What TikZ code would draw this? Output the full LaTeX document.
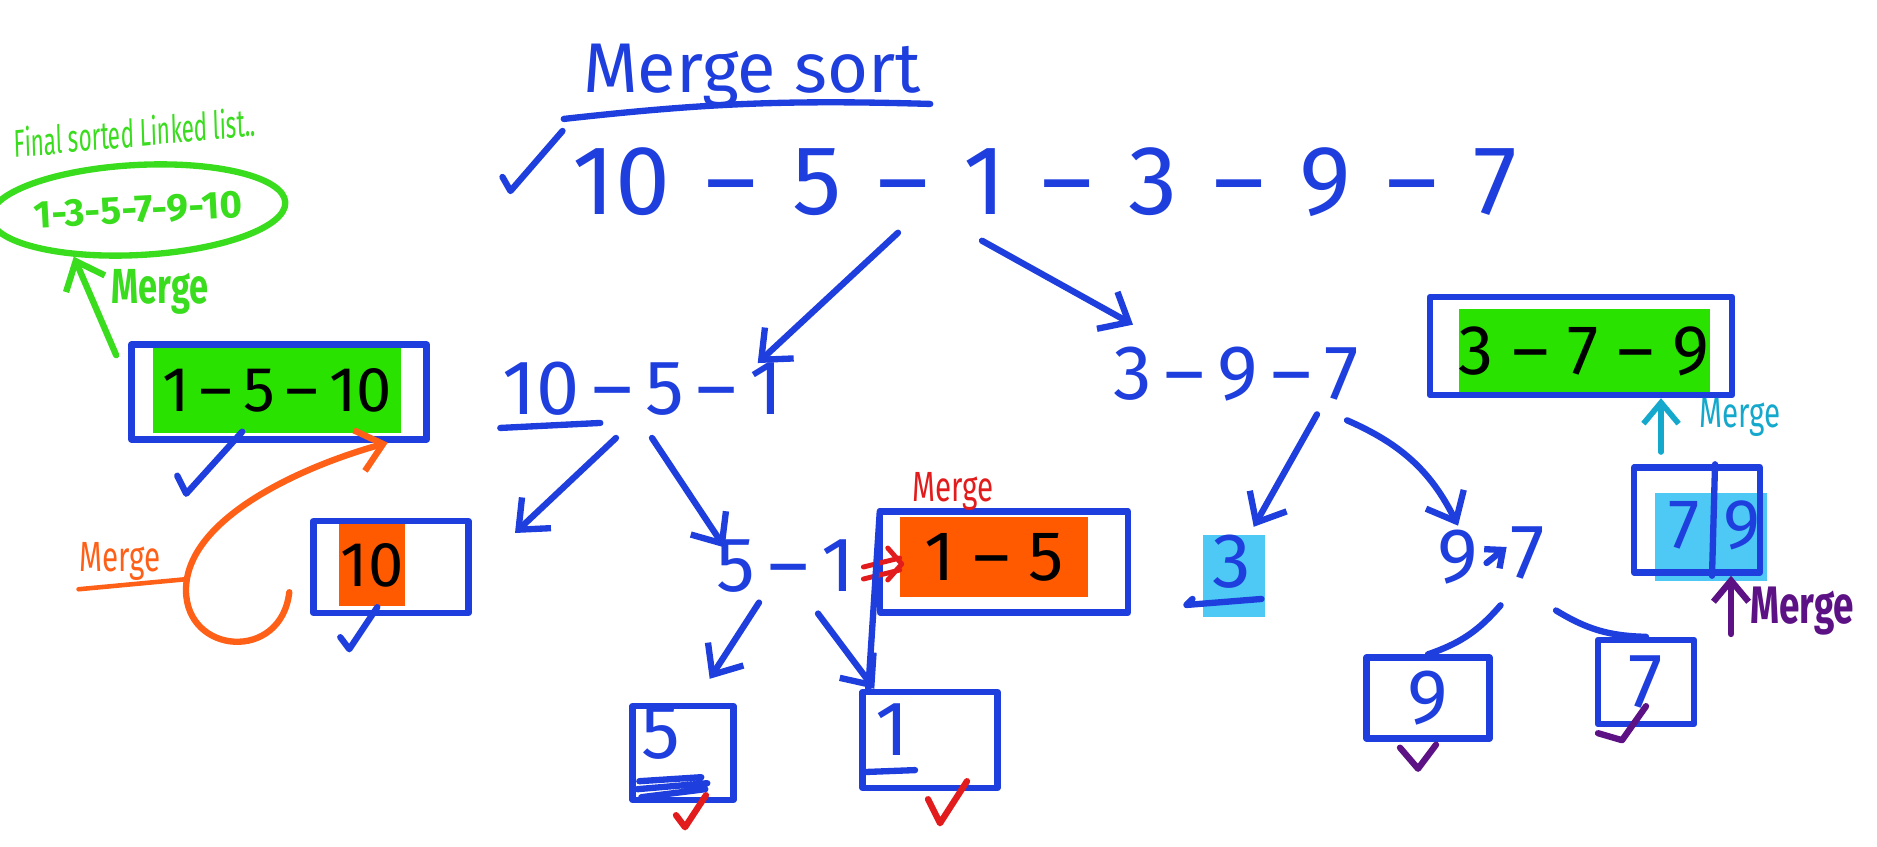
\documentclass[tikz,border=0pt]{standalone}
\usepackage{fontspec}
\setmainfont{Fira Sans}
\usetikzlibrary{arrows.meta,calc,shapes.geometric}
\definecolor{penblue}{RGB}{30,62,222}
\definecolor{pengreen}{RGB}{58,220,30}
\definecolor{pencyan}{RGB}{20,168,204}
\definecolor{penpurple}{RGB}{92,18,132}
\definecolor{penred}{RGB}{226,28,28}
\definecolor{penorange}{RGB}{255,96,24}
\definecolor{hlgreen}{RGB}{42,226,0}
\definecolor{hlorange}{RGB}{255,90,0}
\definecolor{hlcyan}{RGB}{78,200,245}
\newcommand{\gap}{\hspace{0.36em}}

\begin{document}
\begin{tikzpicture}[x=0.01cm,y=-0.01cm,
    pen/.style={draw=penblue,line width=1.8pt,line cap=round,line join=round},
    arr/.style={pen,-{Straight Barb[length=7pt,width=12pt]}},
    num/.style={text=penblue,inner sep=1pt,font=\fontsize{22}{26}\selectfont},
    cell/.style={pen,inner sep=0pt},
    hlbox/.style={inner sep=0pt,text=black,font=\fontsize{20}{24}\selectfont},
    tick/.style={line width=1.8pt,line cap=round,line join=round},
    redpen/.style={draw=penred,line width=1.4pt,line cap=round,line join=round},
    mergelbl/.style={inner sep=1pt,xscale=0.7,font=\fontsize{12}{14}\selectfont}]
        \useasboundingbox (0,0) rectangle (1877,846);

        % title and list
        \node[num,font=\fontsize{20}{24}\selectfont] (title) at (752,76) {Merge sort};
        \draw[pen] ($(title.south west)+(-15,7)$) to[bend left=4] ($(title.south east)+(5,-8)$);
        \node[num,font=\fontsize{28}{34}\selectfont] (seq) at (1045,182)
            {10\gap–\gap5\gap–\gap1\gap–\gap3\gap–\gap9\gap–\gap7};
        \draw[tick,draw=penblue] ($(seq.west)+(-66,-5)$) -- ++(8,14) -- ++(52,-60);

        % first split
        \node[num] (l3) at (643,389) {10\,–\,5\,–\,1};
        \node[num] (r3) at (1236,374) {3\,–\,9\,–\,7};
        \draw[pen] ($(l3.south west)+(2,8)$) -- ++(100,-5);
        \draw[arr] ($(seq.south)+(-147,12)$) -- ($(l3.north east)+(-30,5)$);
        \draw[arr] ($(seq.south)+(-63,20)$) -- ($(r3.north west)+(24,-18)$);

        % final result
        \node[draw=pengreen,line width=1.8pt,ellipse,minimum width=2.5cm,minimum height=0.9cm,inner sep=0pt,
            text=pengreen,font=\bfseries\fontsize{11}{13}\selectfont,rotate=3] (ell) at (138,210) {1-3-5-7-9-10};
        \node[text=pengreen,font=\fontsize{11}{13}\selectfont,xscale=0.58,rotate=3] (final) at (135,132) {Final sorted Linked list..};
        \node[hlbox,fill=hlgreen,minimum width=2.48cm,minimum height=0.86cm,font=\fontsize{18}{22}\selectfont] (g1510) at (277,390) {1\,–\,5\,–\,10};
        \node[cell,minimum width=2.95cm,minimum height=0.95cm] (b1510) at (279,392) {};
        \draw[draw=pengreen,line width=1.8pt,line cap=round,-{Straight Barb[length=7pt,width=12pt]}]
            ($(b1510.north west)+(-12,14)$) -- (ell.213);
        \node[mergelbl,text=pengreen,font=\bfseries\fontsize{14}{16}\selectfont] (mG) at (160,292) {Merge};
        \draw[tick,draw=penblue] ($(b1510.south west)+(49,33)$) -- ++(9,18) -- ++(56,-62);

        % merging 10
        \node[hlbox,fill=hlorange,minimum width=0.66cm,minimum height=0.81cm,font=\fontsize{18}{22}\selectfont] (g10) at (372,565) {10};
        \node[cell,minimum width=1.55cm,minimum height=0.92cm] (b10) at (391,567) {};
        \draw[tick,draw=penblue] ($(b10.south west)+(30,21)$) -- ++(9,12) -- ++(28,-42);
        \coordinate (loopO) at (186,590);
        \draw[draw=penorange,line width=1.8pt,line cap=round,-{Straight Barb[length=7pt,width=12pt]}]
            ($(b10.south west)+(-21,-24)$) .. controls +(-8,70) and +(0,65) .. (loopO)
            .. controls +(0,-70) and +(-90,25) .. ($(b1510.south east)+(-42,0)$);
        \node[mergelbl,text=penorange] (mO) at (120,561) {Merge};
        \draw[draw=penorange,line width=1.3pt,line cap=round] ($(mO.south west)+(2,5)$) -- ($(mO.south east)+(22,-5)$);

        % second split (left)
        \coordinate (lfree) at (515,533);
        \node[num] (n51) at (786,566) {5\,–\,1};
        \draw[arr] ($(l3.south)+(-27,18)$) -- (lfree);
        \draw[arr] ($(l3.south)+(9,18)$) -- ($(n51.north west)+(12,12)$);
        \node[hlbox,fill=hlorange,minimum width=1.87cm,minimum height=0.79cm] (g15) at (994,557) {1 – 5};
        \node[cell,minimum width=2.48cm,minimum height=1.01cm] (b15) at (1004,562) {};
        \node[mergelbl,text=penred] (mR) at (953,491) {Merge};
        \draw[redpen] ($(n51.east)+(4,1)$) -- ($(g15.west)+(0,1)$)
            ($(n51.east)+(4,13)$) -- ($(g15.west)+(0,13)$);
        \draw[redpen] ($(g15.west)+(-12,-9)$) -- ($(g15.west)+(2,7)$) -- ($(g15.west)+(-12,23)$);

        \node[cell,minimum width=1.01cm,minimum height=0.94cm] (b5) at (683,753) {};
        \node[num] (d5) at (661,733) {5};
        \node[cell,minimum width=1.35cm,minimum height=0.96cm] (b1) at (930,740) {};
        \node[num] (d1) at (892,730) {1};
        \draw[pen] ($(b15.north west)+(3,3)$) -- ($(b1.north west)+(9,0)$);
        \draw[arr] ($(n51.south)+(-27,6)$) -- ($(b5.north east)+(-27,-24)$);
        \draw[arr] ($(n51.south)+(32,17)$) -- ($(b1.north west)+(15,0)$);
        \draw[pen] ($(b5.south west)+(10,-22)$) -- ++(62,-4) ($(b5.south west)+(8,-14)$) -- ++(70,-6)
            ($(b5.south west)+(12,-6)$) -- ++(64,-8);
        \draw[pen] ($(d1.south west)+(-8,12)$) -- ++(52,-2);
        \draw[tick,draw=penred] ($(b5.south)+(-7,12)$) -- ++(9,12) -- ++(21,-32);
        \draw[tick,draw=penred] ($(b1.south)+(-2,8)$) -- ++(12,24) -- ++(27,-42);

        % right half
        \node[hlbox,fill=hlgreen,minimum width=2.48cm,minimum height=0.84cm] (g379) at (1584,351) {3 – 7 – 9};
        \node[cell,minimum width=3.02cm,minimum height=0.98cm] (b379) at (1581,346) {};
        \coordinate (tC) at (1661,452);
        \draw[draw=pencyan,line width=1.6pt,line cap=round,-{Straight Barb[length=6pt,width=10pt]}] (tC) -- (tC |- b379.south);
        \node[mergelbl,text=pencyan] (mC) at (1740,417) {Merge};

        \node[hlbox,fill=hlcyan,minimum width=1.12cm,minimum height=0.88cm] (c79) at (1711,537) {};
        \node[cell,minimum width=1.26cm,minimum height=1.05cm] (b79) at (1697,520) {};
        \draw[pen] ($(b79.north)+(18,0)$) -- ($(b79.south)+(15,0)$);
        \node[num,font=\fontsize{20}{24}\selectfont] (d7) at (1684,525) {7};
        \node[num,font=\fontsize{20}{24}\selectfont] (d9) at (1742,525) {9};
        \coordinate (tP) at (1731,634);
        \draw[draw=penpurple,line width=1.8pt,line cap=round,-{Straight Barb[length=6pt,width=10pt]}] (tP) -- (tP |- b79.south);
        \node[mergelbl,text=penpurple,font=\bfseries\fontsize{15}{17}\selectfont] (mP) at (1802,611) {Merge};

        \node[hlbox,fill=hlcyan,minimum width=0.62cm,minimum height=0.81cm] (c3) at (1234,576) {};
        \node[num] (d3) at (1232,562) {3};
        \draw[pen] ($(d3.south east)+(6,6)$) -- ($(d3.south west)+(-22,12)$) -- ++(6,-6);
        \draw[arr] ($(r3.south)+(81,9)$) -- ($(c3.north east)+(-12,-8)$);

        \node[num] (n9) at (1458,557) {9};
        \node[num] (n7) at (1528,553) {7};
        \draw[pen,-{Straight Barb[length=4pt,width=7pt]}] ($(n9.east)+(4,6)$) -- ($(n7.west)+(0,-6)$);
        \draw[arr] ($(r3.south east)+(-16,15)$) to[bend left=20] (n9.north);

        \node[cell,num,minimum width=1.23cm,minimum height=0.81cm] (b9) at (1428,698) {9};
        \node[cell,num,minimum width=0.96cm,minimum height=0.84cm] (b7) at (1646,682) {7};
        \draw[pen] ($(n9.south east)+(18,17)$) to[bend left=15] (b9.north);
        \draw[pen] ($(n7.south)+(28,27)$) to[bend right=15] (b7.north);
        \draw[tick,draw=penpurple] ($(b9.south)+(-28,6)$) -- ++(18,21) -- ++(18,-24);
        \draw[tick,draw=penpurple] ($(b7.south)+(-48,6)$) -- ++(24,7) -- ++(24,-34);
\end{tikzpicture}
\end{document}
